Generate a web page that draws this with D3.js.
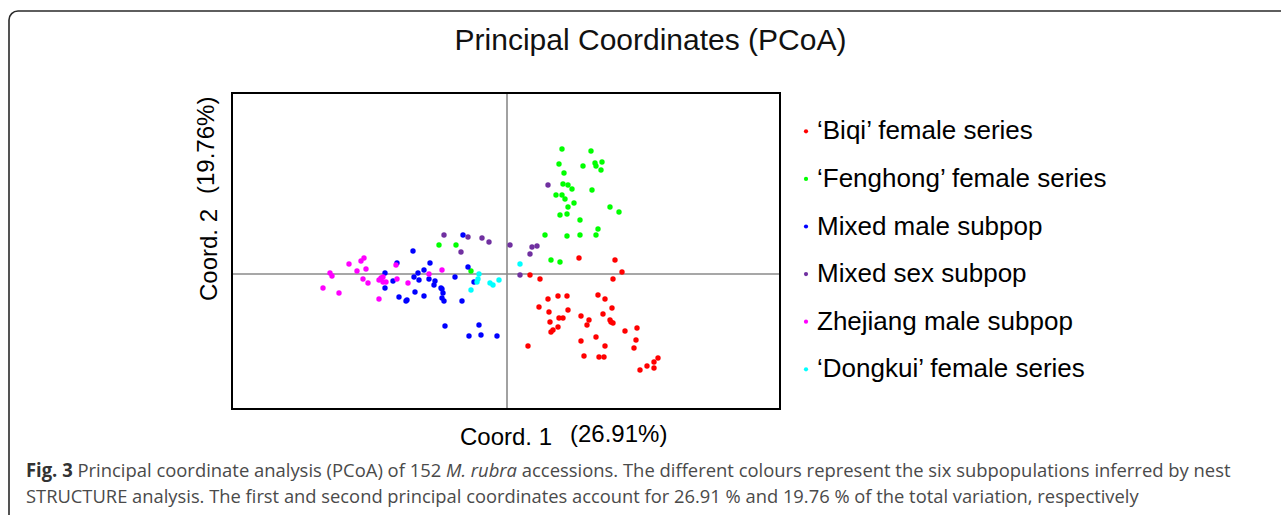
<!DOCTYPE html>
<html><head><meta charset="utf-8">
<script src="https://cdn.jsdelivr.net/npm/d3@7"></script>
<style>body{margin:0;background:#fff}svg{display:block}</style>
</head><body><svg id="c" width="1281" height="515"></svg>
<script>
const titleText = "Principal Coordinates (PCoA)";
const xLabel = ["Coord. 1", "(26.91%)"];
const yLabel = ["Coord. 2", "(19.76%)"];
const seriesNames = ["\u2018Biqi\u2019 female series", "\u2018Fenghong\u2019 female series", "Mixed male subpop", "Mixed sex subpop", "Zhejiang male subpop", "\u2018Dongkui\u2019 female series"];
const seriesColors = ["#ff0000", "#00ff00", "#0000ff", "#7030a0", "#ff00ff", "#00ffff"];

const biqi = [[0.72,0.16],[1.08,0.14],[1.15,0.02],[0.23,-0.01],[0.33,-0.05],[1.06,-0.05],[0.41,-0.25],[0.51,-0.22],[0.60,-0.22],[0.91,-0.21],[0.98,-0.25],[0.32,-0.33],[0.61,-0.36],[1.05,-0.34],[0.42,-0.38],[0.96,-0.40],[0.74,-0.42],[0.52,-0.44],[0.56,-0.44],[0.82,-0.46],[1.03,-0.46],[0.43,-0.48],[1.04,-0.48],[1.06,-0.49],[0.80,-0.51],[0.51,-0.53],[0.46,-0.56],[0.44,-0.58],[1.30,-0.54],[1.18,-0.57],[1.29,-0.66],[0.89,-0.63],[0.74,-0.67],[0.98,-0.72],[1.27,-0.74],[0.21,-0.72],[0.77,-0.82],[0.92,-0.83],[0.97,-0.83],[1.51,-0.84],[1.47,-0.88],[1.40,-0.92],[1.47,-0.94],[1.33,-0.96]];
const fenghong = [[0.55,1.25],[0.84,1.23],[0.52,1.10],[0.76,1.08],[0.88,1.11],[0.89,1.08],[0.95,1.12],[0.57,1.01],[0.94,1.04],[0.56,0.90],[0.61,0.89],[0.65,0.85],[0.85,0.84],[0.49,0.79],[0.55,0.79],[0.58,0.75],[0.67,0.71],[0.61,0.67],[1.03,0.67],[1.12,0.62],[0.53,0.59],[0.60,0.60],[0.73,0.54],[0.91,0.45],[0.38,0.39],[0.60,0.38],[0.73,0.39],[0.89,0.39],[0.44,0.14],[0.53,0.12],[-0.68,0.29],[-0.51,0.29],[-0.36,0.03]];
const mixedMale = [[-0.44,0.39],[-0.94,0.23],[-1.10,0.11],[-0.77,0.11],[-0.39,0.07],[-1.22,0.01],[-0.89,0.01],[-0.83,0.04],[-0.93,-0.03],[-0.88,-0.06],[-0.78,-0.05],[-0.72,-0.07],[-0.73,-0.11],[-0.52,-0.03],[-1.14,-0.07],[-1.22,-0.14],[-0.66,-0.14],[-0.65,-0.15],[-0.64,-0.19],[-0.92,-0.18],[-0.83,-0.22],[-1.08,-0.23],[-1.00,-0.26],[-1.01,-0.27],[-0.65,-0.24],[-0.63,-0.27],[-0.45,-0.27],[-0.33,-0.08],[-0.62,-0.52],[-0.28,-0.51],[-0.38,-0.62],[-0.26,-0.61],[-0.10,-0.62]];
const mixedSex = [[-0.63,0.39],[-0.39,0.37],[-0.25,0.36],[-0.18,0.32],[-0.46,0.22],[0.03,0.29],[0.13,-0.01],[0.25,0.27],[0.30,0.28],[0.23,0.20],[0.41,0.89]];
const zhejiang = [[-1.58,0.10],[-1.46,0.13],[-1.43,0.16],[-1.50,0.03],[-1.41,0.05],[-1.77,0.01],[-1.75,-0.02],[-1.44,-0.05],[-1.39,-0.09],[-1.84,-0.14],[-1.68,-0.19],[-1.28,-0.06],[-1.26,-0.04],[-1.24,-0.03],[-1.24,-0.08],[-1.21,-0.08],[-1.10,-0.05],[-1.11,0.09],[-0.99,-0.09],[-0.78,0.00],[-0.65,0.04],[-1.28,-0.25]];
const dongkui = [[-0.28,0.00],[-0.29,-0.05],[-0.30,-0.08],[-0.17,-0.09],[-0.14,-0.11],[-0.08,-0.06],[-0.36,-0.16],[0.13,0.10]];

const seriesData = [biqi, fenghong, mixedMale, mixedSex, zhejiang, dongkui];

const caption1 = [["Fig. 3", "bold", "normal"], [" Principal coordinate analysis (PCoA) of 152 ", "normal", "normal"], ["M. rubra", "normal", "italic"], [" accessions. The different colours represent the six subpopulations inferred by nest", "normal", "normal"]];
const caption2 = [["STRUCTURE analysis. The first and second principal coordinates account for 26.91 % and 19.76 % of the total variation, respectively", "normal", "normal"]];

const svg = d3.select("#c");
const F = "'Liberation Sans', Arial, sans-serif";

// outer frame
svg.append("rect").attr("x", 9).attr("y", 11).attr("width", 1300).attr("height", 540)
  .attr("rx", 9).attr("fill", "none").attr("stroke", "#2a2a2a").attr("stroke-width", 1.6);

svg.append("text").attr("x", 650.5).attr("y", 50).attr("text-anchor", "middle")
  .style("font-family", F).style("font-size", "30px").attr("fill", "#111").text(titleText);

const x = d3.scaleLinear().domain([-2.75, 2.73]).range([232, 780]);
const y = d3.scaleLinear().domain([-1.35, 1.81]).range([409, 93]);

const g = svg.append("g");
g.append("line").attr("x1", x(0)).attr("x2", x(0)).attr("y1", y.range()[1]).attr("y2", y.range()[0])
  .attr("stroke", "#8a8a8a").attr("stroke-width", 1.6);
g.append("line").attr("x1", x.range()[0]).attr("x2", x.range()[1]).attr("y1", y(0)).attr("y2", y(0))
  .attr("stroke", "#8a8a8a").attr("stroke-width", 1.6);

seriesData.forEach((pts, i) => {
  g.append("g").selectAll("circle").data(pts).join("circle")
    .attr("cx", d => x(d[0])).attr("cy", d => y(d[1])).attr("r", 2.7)
    .attr("fill", seriesColors[i]);
});

g.append("rect").attr("x", x.range()[0]).attr("y", y.range()[1])
  .attr("width", x.range()[1] - x.range()[0]).attr("height", y.range()[0] - y.range()[1])
  .attr("fill", "none").attr("stroke", "#000").attr("stroke-width", 2);

// axis labels
svg.append("text").attr("x", 460).attr("y", 445).style("font-family", F).style("font-size", "24px").attr("fill", "#000").text(xLabel[0]);
svg.append("text").attr("x", 570).attr("y", 442).style("font-family", F).style("font-size", "24px").attr("fill", "#000").text(xLabel[1]);
svg.append("text").attr("transform", "translate(217,301) rotate(-90)").style("font-family", F).style("font-size", "24px").attr("fill", "#000").text(yLabel[0]);
svg.append("text").attr("transform", "translate(214,194) rotate(-90)").style("font-family", F).style("font-size", "24px").attr("fill", "#000").text(yLabel[1]);

// legend
const lg = svg.append("g");
seriesNames.forEach((n, i) => {
  const by = 139.3 + i * 47.6;
  lg.append("circle").attr("cx", 806).attr("cy", by - 8).attr("r", 2.1).attr("fill", seriesColors[i]);
  lg.append("text").attr("x", 817).attr("y", by).style("font-family", F).style("font-size", "26px").attr("fill", "#000").text(n);
});

// caption
function captionLine(parts, x0, base, target) {
  const t = svg.append("text").attr("x", 0).attr("y", 0)
    .style("font-family", "'Open Sans', 'Noto Sans', sans-serif").style("font-size", "19px").attr("fill", "#4a4a4a");
  parts.forEach(p => {
    t.append("tspan").text(p[0]).style("font-weight", p[1]).style("font-style", p[2])
      .attr("fill", p[1] === "bold" ? "#333" : "#4a4a4a");
  });
  const w = t.node().getComputedTextLength();
  t.attr("transform", `translate(${x0},${base}) scale(${target / w},1)`);
}
captionLine(caption1, 26, 477, 1205);
captionLine(caption2, 26, 503, 1114);
</script></body></html>
